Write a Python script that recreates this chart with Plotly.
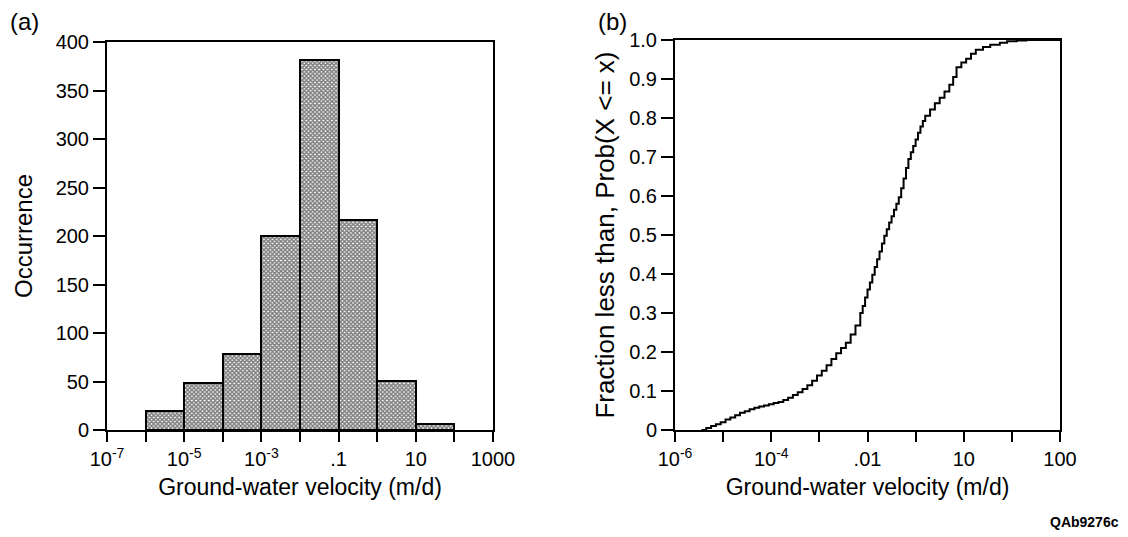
import plotly.graph_objects as go

# ---- data -------------------------------------------------------------
# Histogram: bin edges as log10 of ground-water velocity (m/d)
bin_edges_log = [-6, -5, -4, -3, -2, -1, 0, 1, 2]
occurrence = [20, 48, 78, 200, 381, 217, 51, 6]

# Cumulative distribution: log10 velocity and fraction less than
cdf_log_velocity = [
    -5.45, -5.35, -5.25, -5.15, -5.05, -4.95, -4.85, -4.75, -4.65, -4.55,
    -4.45, -4.35, -4.25, -4.15, -4.05, -3.95, -3.85, -3.75, -3.65, -3.55,
    -3.45, -3.35, -3.25, -3.15, -3.05, -2.95, -2.85, -2.75, -2.65, -2.55,
    -2.45, -2.35, -2.25, -2.15, -2.10, -2.05, -2.00, -1.95, -1.90, -1.85,
    -1.80, -1.75, -1.70, -1.65, -1.60, -1.55, -1.50, -1.45, -1.40, -1.35,
    -1.30, -1.25, -1.20, -1.15, -1.10, -1.05, -1.00, -0.95, -0.90, -0.85,
    -0.80, -0.70, -0.60, -0.50, -0.40, -0.30, -0.22, -0.15, -0.05, 0.05,
    0.15, 0.25, 0.40, 0.55, 0.75, 0.90, 1.10, 1.30, 2.00,
]
cdf_fraction = [
    0.000, 0.005, 0.010, 0.015, 0.020, 0.027, 0.032, 0.038, 0.044, 0.048,
    0.053, 0.057, 0.060, 0.063, 0.066, 0.069, 0.072, 0.077, 0.083, 0.090,
    0.097, 0.105, 0.115, 0.126, 0.140, 0.152, 0.166, 0.182, 0.197, 0.210,
    0.224, 0.245, 0.268, 0.300, 0.318, 0.340, 0.360, 0.378, 0.398, 0.418,
    0.438, 0.458, 0.478, 0.498, 0.515, 0.532, 0.548, 0.565, 0.580, 0.597,
    0.620, 0.645, 0.672, 0.695, 0.712, 0.728, 0.745, 0.762, 0.778, 0.792,
    0.806, 0.822, 0.838, 0.852, 0.868, 0.885, 0.905, 0.930, 0.942, 0.952,
    0.965, 0.975, 0.982, 0.988, 0.993, 0.997, 0.999, 1.000, 1.000,
]

# Tick positions (log10) and labels
hist_label_log = [-7, -5, -3, -1, 1, 3]
hist_label_text = ["10<sup>-7</sup>", "10<sup>-5</sup>", "10<sup>-3</sup>", ".1", "10", "1000"]
hist_minor_log = [-6, -4, -2, 0, 2]
cdf_label_log = [-6, -4, -2, 0, 2]
cdf_label_text = ["10<sup>-6</sup>", "10<sup>-4</sup>", ".01", "10", "100"]
cdf_minor_log = [-5, -3, -1, 1]
occ_ticks = [0, 50, 100, 150, 200, 250, 300, 350, 400]
frac_ticks = [0, 0.1, 0.2, 0.3, 0.4, 0.5, 0.6, 0.7, 0.8, 0.9, 1.0]
frac_tick_text = ["0", "0.1", "0.2", "0.3", "0.4", "0.5", "0.6", "0.7", "0.8", "0.9", "1.0"]

# ---- figure -----------------------------------------------------------
FONT = "Liberation Sans, Arial, Helvetica, sans-serif"
W, H = 1128, 537

bin_centers = [(a + b) / 2 for a, b in zip(bin_edges_log[:-1], bin_edges_log[1:])]
bin_widths = [b - a for a, b in zip(bin_edges_log[:-1], bin_edges_log[1:])]

fig = go.Figure()

fig.add_trace(go.Bar(
    x=bin_centers, y=occurrence, width=bin_widths,
    marker=dict(
        color="white",
        line=dict(color="black", width=2),
        pattern=dict(shape="x", size=3, solidity=0.75,
                     fgcolor="black", bgcolor="white"),
    ),
    xaxis="x", yaxis="y", showlegend=False,
))

fig.add_trace(go.Scatter(
    x=cdf_log_velocity, y=cdf_fraction, mode="lines",
    line=dict(color="black", width=2, shape="hv"),
    xaxis="x2", yaxis="y2", showlegend=False, cliponaxis=False,
))

axis_common = dict(
    showline=True, linecolor="black", linewidth=2, mirror=True,
    showgrid=False, zeroline=False, ticks="outside",
    tickcolor="black", tickwidth=2, automargin=False,
    tickfont=dict(family=FONT, size=20, color="black"),
)


def minor_ticks(vals):
    return dict(tickmode="array", tickvals=vals, ticks="outside",
                ticklen=10, tickwidth=2, tickcolor="black", showgrid=False)


fig.update_layout(
    width=W, height=H,
    margin=dict(l=0, r=0, t=0, b=0),
    paper_bgcolor="white", plot_bgcolor="white",
    bargap=0,
    xaxis=dict(
        axis_common, domain=[107 / W, 493 / W], range=[-7, 3],
        tickmode="array", tickvals=hist_label_log, ticktext=hist_label_text,
        ticklen=10, anchor="y", minor=minor_ticks(hist_minor_log),
        title=dict(text="Ground-water velocity (m/d)", standoff=10,
                   font=dict(family=FONT, size=23, color="black")),
    ),
    yaxis=dict(
        axis_common, domain=[1 - 430 / H, 1 - 42 / H], range=[0, 400],
        tickmode="array", tickvals=occ_ticks, ticklen=12, anchor="x",
        title=dict(text="Occurrence", standoff=16,
                   font=dict(family=FONT, size=24, color="black")),
    ),
    xaxis2=dict(
        axis_common, domain=[675 / W, 1060 / W], range=[-6, 2],
        tickmode="array", tickvals=cdf_label_log, ticktext=cdf_label_text,
        ticklen=10, anchor="y2", minor=minor_ticks(cdf_minor_log),
        title=dict(text="Ground-water velocity (m/d)", standoff=10,
                   font=dict(family=FONT, size=23, color="black")),
    ),
    yaxis2=dict(
        axis_common, domain=[1 - 430 / H, 1 - 40 / H], range=[0, 1],
        tickmode="array", tickvals=frac_ticks, ticktext=frac_tick_text,
        ticklen=12, anchor="x2",
        title=dict(text="Fraction less than, Prob(X &lt;= x)", standoff=7,
                   font=dict(family=FONT, size=26, color="black")),
    ),
    annotations=[
        dict(text="(a)", x=8 / W, y=1 - 22 / H, xref="paper", yref="paper",
             xanchor="left", yanchor="middle", showarrow=False,
             font=dict(family=FONT, size=24, color="black")),
        dict(text="(b)", x=596 / W, y=1 - 22 / H, xref="paper", yref="paper",
             xanchor="left", yanchor="middle", showarrow=False,
             font=dict(family=FONT, size=24, color="black")),
        dict(text="<b>QAb9276c</b>", x=1121 / W, y=1 - 522 / H,
             xref="paper", yref="paper", xanchor="right", yanchor="middle",
             showarrow=False, font=dict(family=FONT, size=14, color="black")),
    ],
)

fig.write_html("out.html")
